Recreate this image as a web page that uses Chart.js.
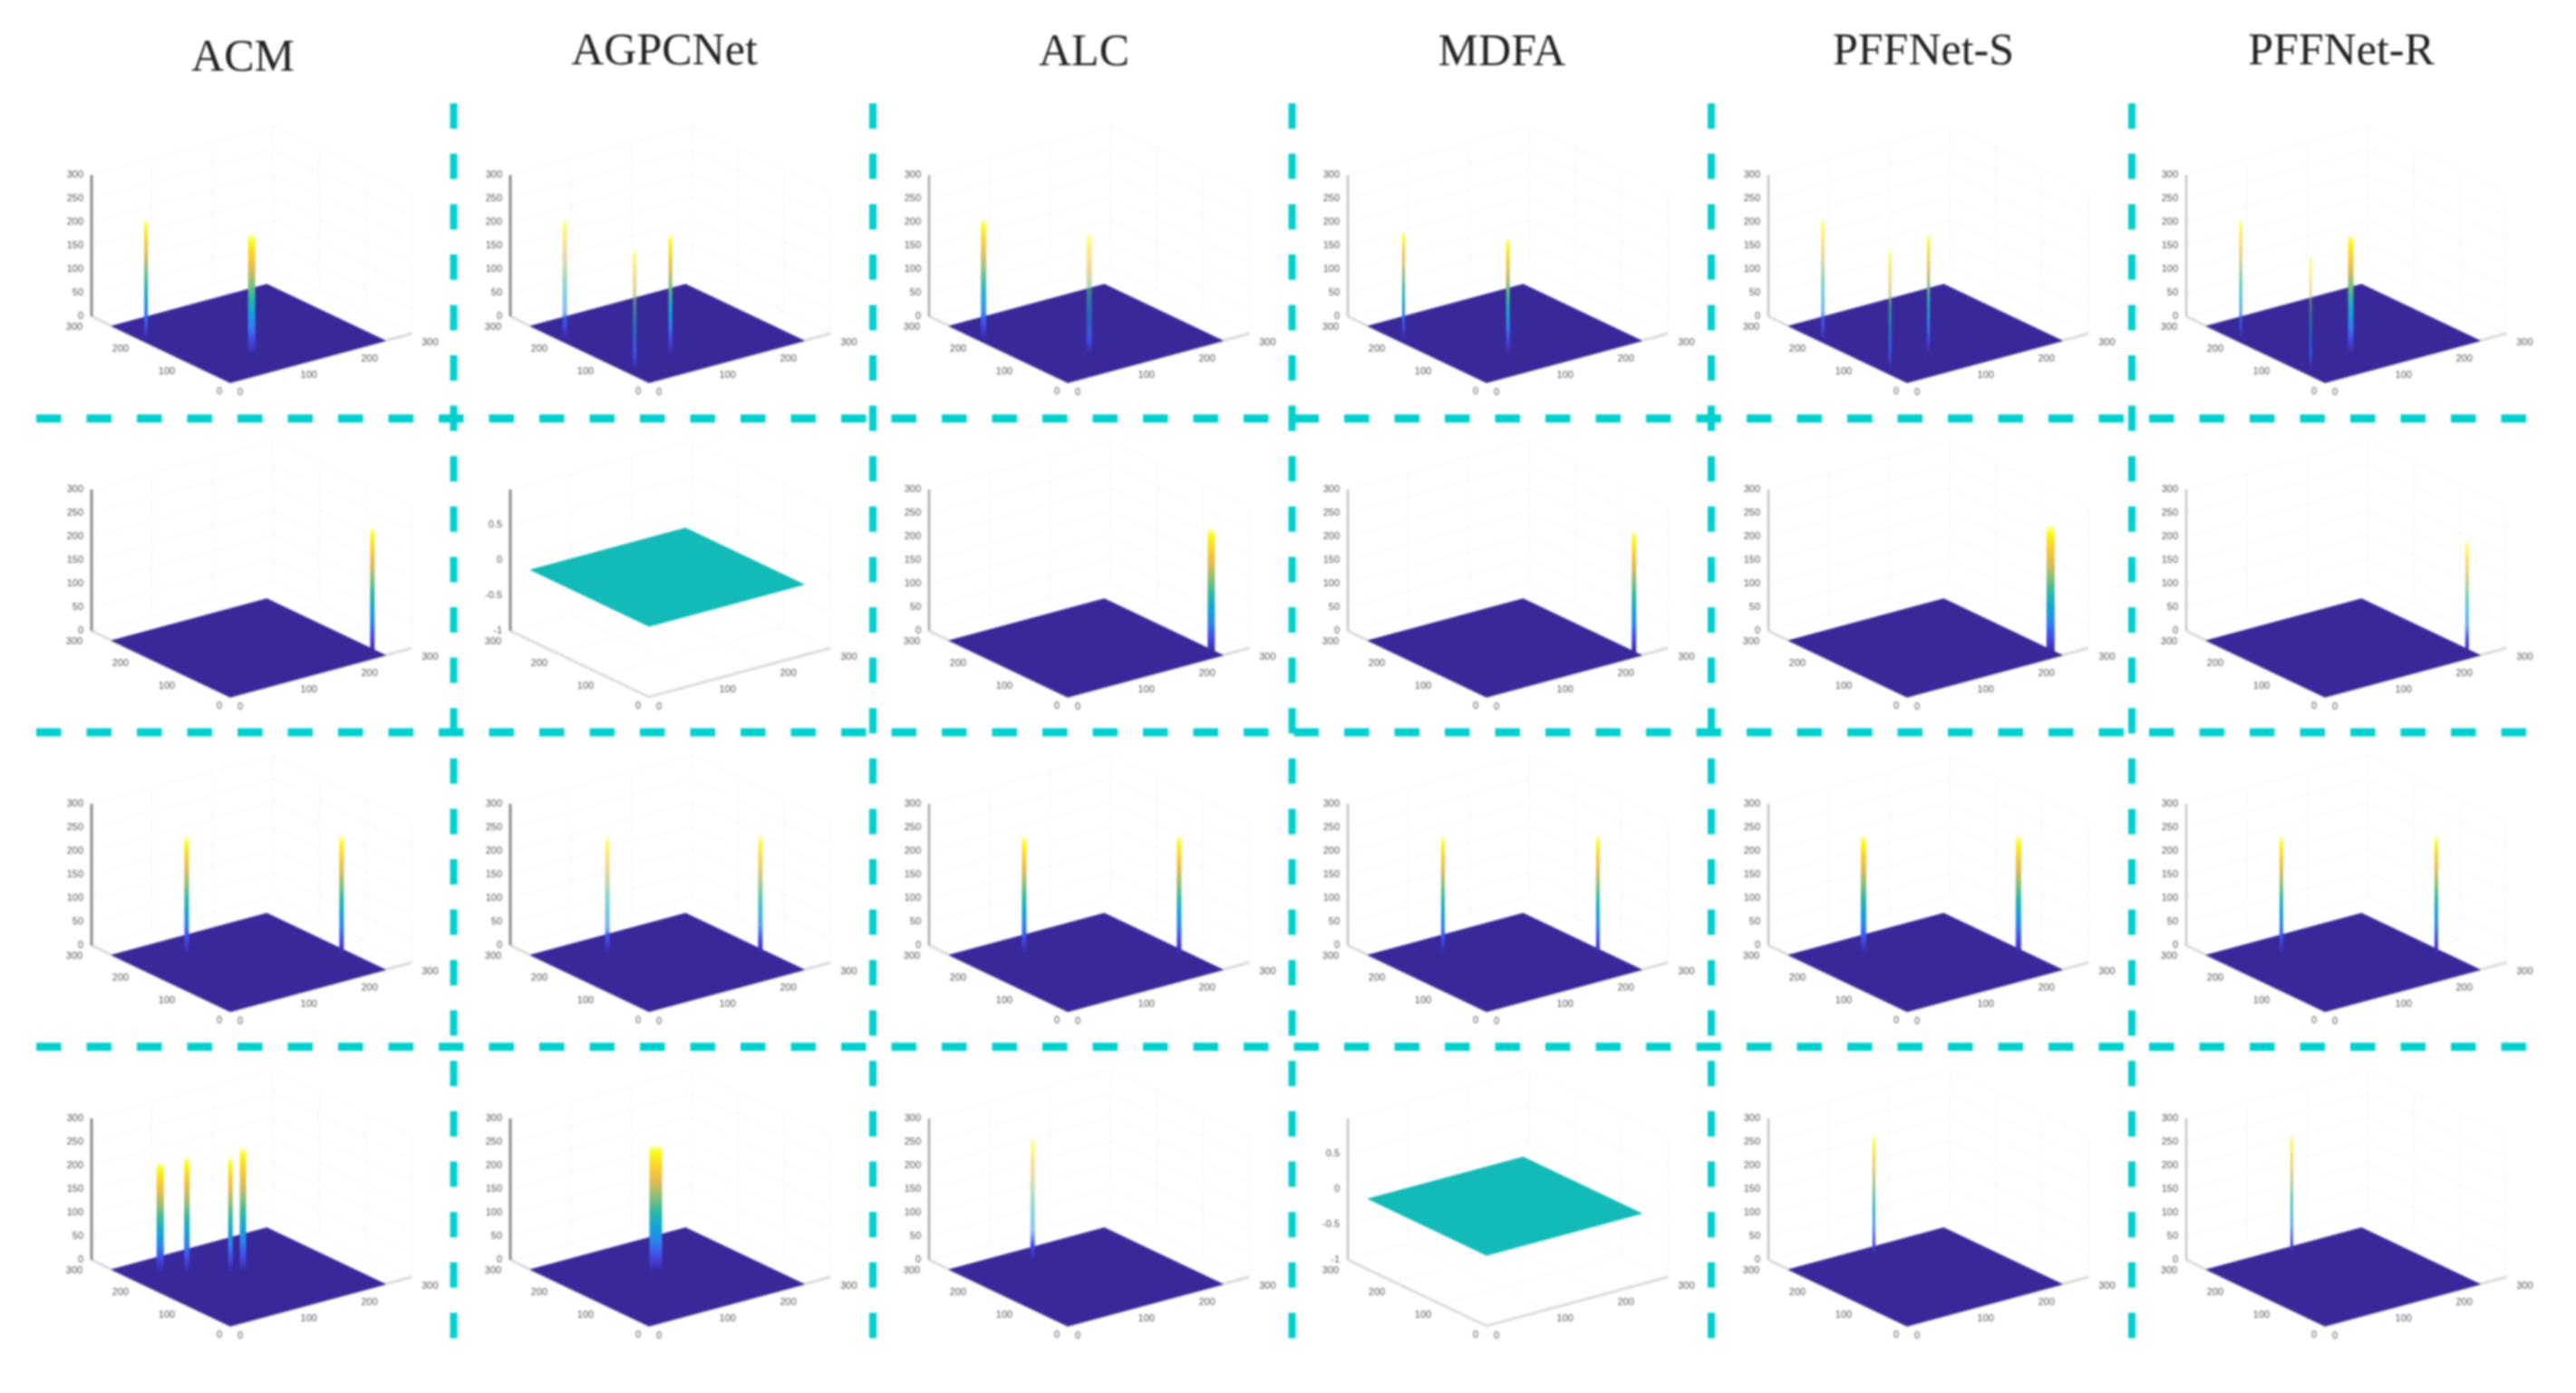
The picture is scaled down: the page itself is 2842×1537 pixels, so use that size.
<!DOCTYPE html>
<html><head><meta charset="utf-8">
<script src="https://cdn.jsdelivr.net/npm/chart.js@4"></script>
<style>html,body{margin:0;padding:0;background:#fff;overflow:hidden}canvas{display:block;filter:blur(1px)}</style>
</head><body><canvas id="c" width="2842" height="1537"></canvas>
<script>
// ---- data ----
const methods = ["ACM","AGPCNet","ALC","MDFA","PFFNet-S","PFFNet-R"];
const zTicks = [0,50,100,150,200,250,300];
const flatZTicks = [-1,-0.5,0,0.5];
const flatZGrid = [-1,-0.5,0,0.5,1];
const xyTicks = [0,100,200,300];
const imageSize = 256;
const flatRow = [1,3];
const flatCol = [1,3];
const flatValue = 0;
// one entry per peak
const peakRow = [0,0, 0,0,0, 0,0, 0,0, 0,0,0, 0,0,0, 1,1,1,1,1, 2,2,2,2,2,2,2,2,2,2,2,2, 3,3,3,3, 3, 3, 3, 3];
const peakCol = [0,0, 1,1,1, 2,2, 3,3, 4,4,4, 5,5,5, 0,2,3,4,5, 0,0,1,1,2,2,3,3,4,4,5,5, 0,0,0,0, 1, 2, 4, 5];
const peakU   = [190,65, 190,48,65, 190,65, 190,65, 190,50,65, 190,48,62, 20,17,15,17,20, 203,80,200,80,203,80,203,80,203,80,203,80, 213,192,158,148, 153, 220, 229, 229];
const peakV   = [6,85, 6,13,85, 6,85, 8,85, 6,10,85, 6,13,90, 250,250,255,250,250, 83,245,84,245,83,245,83,245,83,245,83,245, 47,75,121,134, 128, 110, 120, 120];
const peakH   = [255,255, 255,255,255, 255,255, 230,246, 255,255,255, 255,240,252, 263,263,255,269,235, 248,250,248,250,248,250,248,250,248,250,248,250, 230,242,242,262, 268, 255, 255, 255];

// ---- styles, kept apart from the values ----
const peakWidth = [4,8, 5,4,4, 6,6, 3,4, 4,3,3, 3,3,6, 5,8,5,9,4, 5,5,5,5,5,5,4,4,6,6,4,4, 8,6,5,7, 14, 5, 3, 3];
const peakAlpha = [1,1, .55,.6,1, .9,.55, 1,1, .6,.7,1, .8,.5,1, 1,1,1,1,.7, 1,1,.6,.8,1,1,1,1,1,1,1,1, 1,1,1,1, 1, .5, .9, .8];
const parula = ["#38289a","#4548e8","#2c83f0","#12a4d6","#2db8a3","#85bf78","#dcbb52","#fcce2e","#f9fb15"];
const FLOOR="#38289a", FLAT="#12bab8", SEP="#00cfcf";
const colX = [254,716,1178,1640,2104,2565], rowY = [422,769,1116,1463];
const titleX = [268,733,1196,1657,2122,2583], titleY = [65,58,59,59,58,58];
const sepX = [500.5,963,1425.5,1888,2352], sepY = [461.7,808,1155];
const UX=-0.51, UY=-0.243, VX=0.668, VY=-0.18, ZH=156;

const isFlat=(r,c)=>flatRow.some((fr,i)=>fr===r&&flatCol[i]===c);
function zPix(r,c,z){return isFlat(r,c)?(z+1)/2*ZH:z/300*ZH;}
function proj(r,c,u,v,z){return {x:colX[c]+UX*u+VX*v, y:rowY[r]+UY*u+VY*v-zPix(r,c,z)};}

const datasets=[];
const GAP={x:NaN,y:NaN};
function line(data,color,width,order,extra){datasets.push(Object.assign({data,showLine:true,borderColor:color,borderWidth:width,pointRadius:0,order,tension:0,fill:false},extra||{}));}

// dashed separators
sepX.forEach(x=>line([{x,y:114},{x,y:1477}],SEP,8,1,{borderDash:[28,27.6]}));
sepY.forEach(y=>line([{x:40,y},{x:2788,y}],SEP,9,1,{borderDash:[27.5,28]}));

for(let r=0;r<4;r++)for(let c=0;c<6;c++){
  const flat=isFlat(r,c), zs=flat?flatZGrid:zTicks, zb=zs[0], zt=zs[zs.length-1], M=300;
  // faint box grid
  const g=[];
  zs.forEach(z=>g.push(proj(r,c,M,0,z),proj(r,c,M,M,z),proj(r,c,0,M,z),GAP));
  xyTicks.forEach(t=>{
    g.push(proj(r,c,M,t,zb),proj(r,c,M,t,zt),GAP,proj(r,c,t,M,zb),proj(r,c,t,M,zt),GAP);
    g.push(proj(r,c,t,0,zb),proj(r,c,t,M,zb),GAP,proj(r,c,0,t,zb),proj(r,c,M,t,zb),GAP);
  });
  line(g,"#fbfbfb",2,9);
  // box axes
  line([proj(r,c,M,0,zb),proj(r,c,0,0,zb),proj(r,c,0,M,zb)],"#dcdcdc",3,8);
  line([proj(r,c,M,0,zb),proj(r,c,M,0,zt)],c<2?"#8a8a8a":c===2?"#a8a8a8":"#c4c4c4",c<2?3:2.5,7);
  // surface floor
  const fz=flat?flatValue:0, col=flat?FLAT:FLOOR, S=imageSize;
  const idx=datasets.length;
  line([proj(r,c,S,0,fz),proj(r,c,S,S,fz),proj(r,c,0,S,fz)],col,1,6,{fill:idx+1,backgroundColor:col});
  line([proj(r,c,S,0,fz),proj(r,c,0,0,fz),proj(r,c,0,S,fz)],col,1,6);
}
// peaks
peakU.forEach((u,i)=>{
  const r=peakRow[i],c=peakCol[i],v=peakV[i],h=peakH[i];
  const base=proj(r,c,u,v,0),top=proj(r,c,u,v,h),al=peakAlpha[i];
  line([base,top],function(ctx){
    const ch=ctx.chart,s=ch.scales;
    const toPx=w=>{const p=s&&s.y?s.y.getPixelForValue(w):NaN;return isFinite(p)?p:w/1537*ch.height;};
    const g=ch.ctx.createLinearGradient(0,toPx(base.y),0,toPx(top.y));
    const a=Math.round(al*255).toString(16).padStart(2,"0");
    parula.forEach((p,k)=>g.addColorStop(k/(parula.length-1)*0.94,k<2?p:p+a));
    g.addColorStop(1,"#f9fb1530");
    return g;
  },peakWidth[i],3);
});

const textPlugin={id:"sheetText",afterDraw(ch){
  const x=ch.scales.x,y=ch.scales.y,g=ch.ctx;
  const put=(t,px,py)=>g.fillText(t,x.getPixelForValue(px),y.getPixelForValue(py));
  g.save();g.textAlign="center";g.textBaseline="middle";
  g.fillStyle="#222";g.font="50px 'Liberation Serif'";
  methods.forEach((m,i)=>put(m,titleX[i],titleY[i]));
  g.fillStyle="#555";g.font="11px 'Liberation Sans'";
  for(let r=0;r<4;r++)for(let c=0;c<6;c++){
    const flat=isFlat(r,c);
    (flat?flatZTicks:zTicks).forEach(z=>{const p=proj(r,c,300,0,z);g.textAlign="right";put(String(z),p.x-9,p.y);});
    g.textAlign="center";
    xyTicks.forEach(t=>{
      const p=proj(r,c,t,0,flat?-1:0),q=proj(r,c,0,t,flat?-1:0);
      put(String(t),p.x+(t?-19:-12),p.y+(t?12:10));
      put(String(t),q.x+(t?20:11),q.y+(t?10:11));
    });
  }
  g.restore();
}};

new Chart(document.getElementById("c"),{type:"scatter",data:{datasets},plugins:[textPlugin],options:{
  responsive:false,animation:false,maintainAspectRatio:false,
  layout:{padding:0},
  plugins:{legend:{display:false},tooltip:{enabled:false},title:{display:false}},
  scales:{x:{type:"linear",min:0,max:2842,display:false},y:{type:"linear",min:0,max:1537,reverse:true,display:false}}
}});
</script></body></html>
